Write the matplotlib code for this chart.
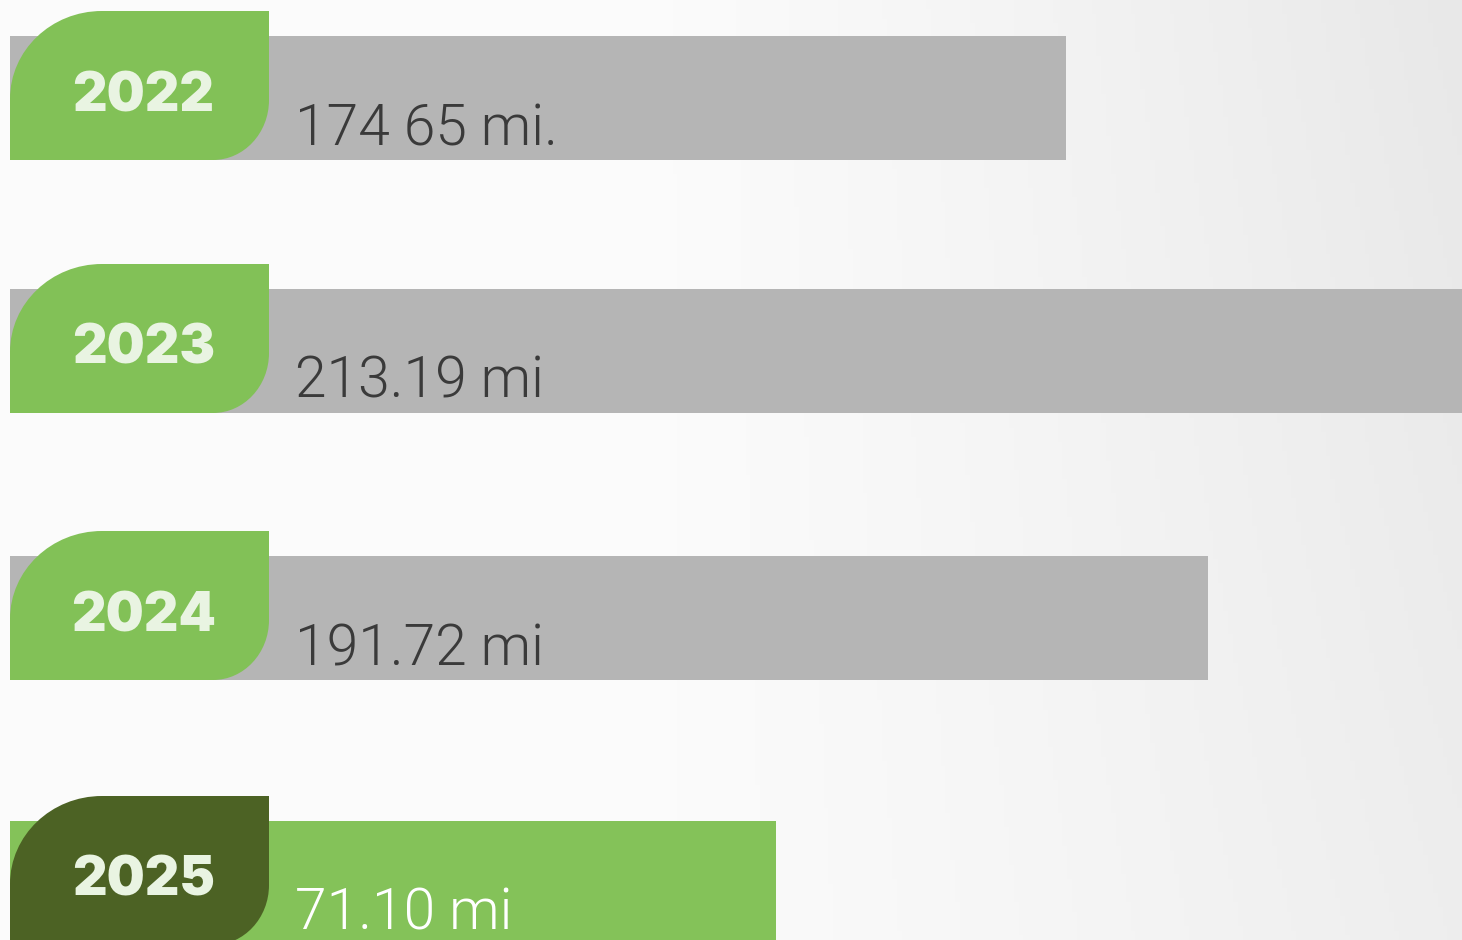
import numpy as np
import matplotlib.pyplot as plt
from matplotlib.path import Path
from matplotlib.patches import PathPatch

# data
years = ['2022', '2023', '2024', '2025']
value_labels = ['174 65 mi.', '213.19 mi', '191.72 mi', '71.10 mi']
bar_lengths = [1056, 1490, 1198, 766]   # drawn length of each bar (picture units)

bar_colors = ['#b5b5b5', '#b5b5b5', '#b5b5b5', '#84c259']
leaf_colors = ['#82c157', '#82c157', '#82c157', '#4c6224']
value_colors = ['#3a3a3a', '#3a3a3a', '#3a3a3a', '#ffffff']

W, H = 1462, 940
row_bottoms = [160, 413, 680, 945]
bar_h = 124
leaf_h = 149
x0, x1 = 10, 269


def leaf_path(bottom):
    k = 0.5523
    top = bottom - leaf_h
    rx1, ry1 = 92, 88
    rx2, ry2 = 56, 60
    verts = [
        (x0, bottom),
        (x0, top + ry1),
        (x0, top + ry1 * (1 - k)), (x0 + rx1 * (1 - k), top), (x0 + rx1, top),
        (x1, top),
        (x1, bottom - ry2),
        (x1, bottom - ry2 * (1 - k)), (x1 - rx2 * (1 - k), bottom), (x1 - rx2, bottom),
        (x0, bottom),
    ]
    codes = [Path.MOVETO, Path.LINETO,
             Path.CURVE4, Path.CURVE4, Path.CURVE4,
             Path.LINETO, Path.LINETO,
             Path.CURVE4, Path.CURVE4, Path.CURVE4,
             Path.CLOSEPOLY]
    return Path(verts, codes)


fig = plt.figure(figsize=(W / 100, H / 100), dpi=100)
ax = fig.add_axes([0, 0, 1, 1])
ax.set_xlim(0, W)
ax.set_ylim(H, 0)
ax.axis('off')

# soft background: white on the left fading to light grey on the right
xs = np.linspace(0, 1, 300)
ys = np.linspace(0, 1, 200)
gx, gy = np.meshgrid(xs, ys)
shade = 0.985 - 0.075 * np.clip((gx - 0.45) / 0.55, 0, 1) ** 1.2 * (0.7 + 0.3 * (1 - gy))
bg = np.dstack([shade, shade, shade])
ax.imshow(bg, extent=[0, W, H, 0], aspect='auto', zorder=0)

for i in range(len(years)):
    b = row_bottoms[i]
    ax.barh(b - bar_h / 2, bar_lengths[i], left=x0, height=bar_h,
            color=bar_colors[i], zorder=2)
    ax.add_patch(PathPatch(leaf_path(b), facecolor=leaf_colors[i],
                           edgecolor='none', zorder=3))
    ax.text((x0 + x1) / 2 + 4, b - leaf_h / 2 + 11, years[i], ha='center', va='center',
            fontsize=38.5, fontweight=900, family='Inter',
            color='#e9f4e2', zorder=4)
    ax.text(295, b - 15, value_labels[i], ha='left', va='baseline',
            fontsize=41, fontweight=300, family='Roboto',
            color=value_colors[i], zorder=4)

fig.savefig('out.png', dpi=100)
